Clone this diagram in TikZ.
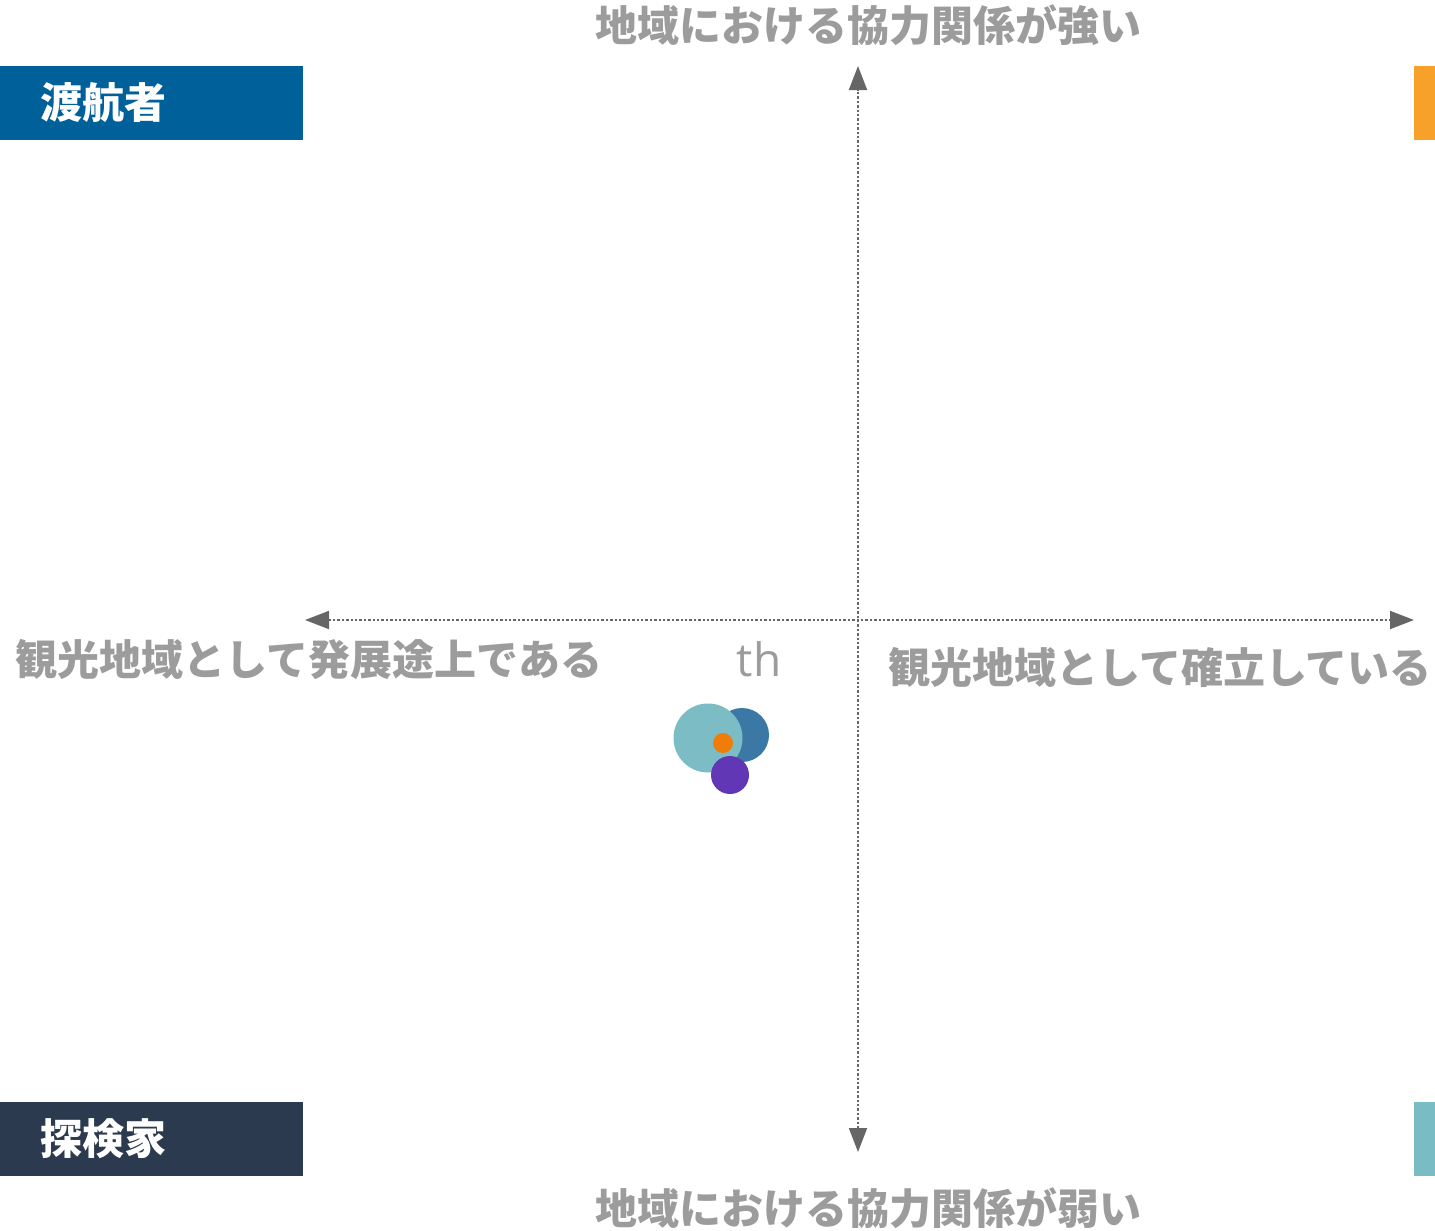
\documentclass[tikz,border=0pt]{standalone}
\usepackage{fontspec}
\setmainfont{Noto Sans CJK JP}
\newfontfamily\thfont{Open Sans}
\usetikzlibrary{arrows.meta}
\definecolor{axisgray}{HTML}{666666}
\definecolor{labelgray}{HTML}{9C9C9C}
\definecolor{boxblue}{HTML}{00609A}
\definecolor{boxnavy}{HTML}{2B3A4E}
\definecolor{barorange}{HTML}{F7A12A}
\definecolor{barteal}{HTML}{7ABCC4}
\definecolor{dotteal}{HTML}{7BBCC5}
\definecolor{dotblue}{HTML}{3C78A5}
\definecolor{dotorange}{HTML}{F07D0A}
\definecolor{dotpurple}{HTML}{6237B5}
\begin{document}
\begin{tikzpicture}[x=0.5pt,y=-0.5pt,line join=round,>={Triangle[length=12pt,width=9pt]}]
			\tikzset{axislabel/.style={text=labelgray,font=\fontsize{21pt}{24pt}\selectfont\bfseries,inner sep=0pt},
				boxlabel/.style={text=white,font=\fontsize{21pt}{24pt}\selectfont\bfseries,inner sep=0pt,anchor=west},
				axisline/.style={draw=axisgray,line width=0.9pt,dash pattern=on 1.2pt off 1pt}}
			\def\xmin{305} \def\xmax{1414}\def\ymin{66}\def\ymax{1152}
			\useasboundingbox (0,0) rectangle (1435,1231);
			% corner bars
			\fill[boxblue] (0,66) rectangle (303,140);
			\fill[boxnavy] (0,1102) rectangle (303,1176);
			\fill[barorange] (1414,66) rectangle (1435,140);
			\fill[barteal] (1414,1102) rectangle (1435,1176);
			\node[boxlabel] (traveller) at (40,103) {渡航者};
			\node[boxlabel] (explorer) at (40,1139) {探検家};
			% axes
			\coordinate (left) at (\xmin,620);
			\coordinate (right) at (\xmax,620);
			\coordinate (top) at (858,\ymin);
			\coordinate (bottom) at (858,\ymax);
			\draw[axisline,<->] (left)--(right);
			\draw[axisline,<->] (bottom)--(top);
			\node[axislabel] (strong) at (868,25) {地域における協力関係が強い};
			\node[axislabel] (weak) at (868,1208) {地域における協力関係が弱い};
			\node[axislabel] (developing) at (309,660) {観光地域として発展途上である};
			\node[axislabel] (established) at (1160,667) {観光地域として確立している};
			\node[text=labelgray,font=\fontsize{23pt}{26pt}\selectfont\thfont,inner sep=0pt] (th) at (759,659) {th};
			% bubbles
			\fill[dotblue] (742,735) circle(27);
			\fill[dotteal] (708,738) circle(34.5);
			\fill[dotorange] (723,743) circle(10);
			\fill[dotpurple] (730,775) circle(19);
		\end{tikzpicture}
\end{document}
